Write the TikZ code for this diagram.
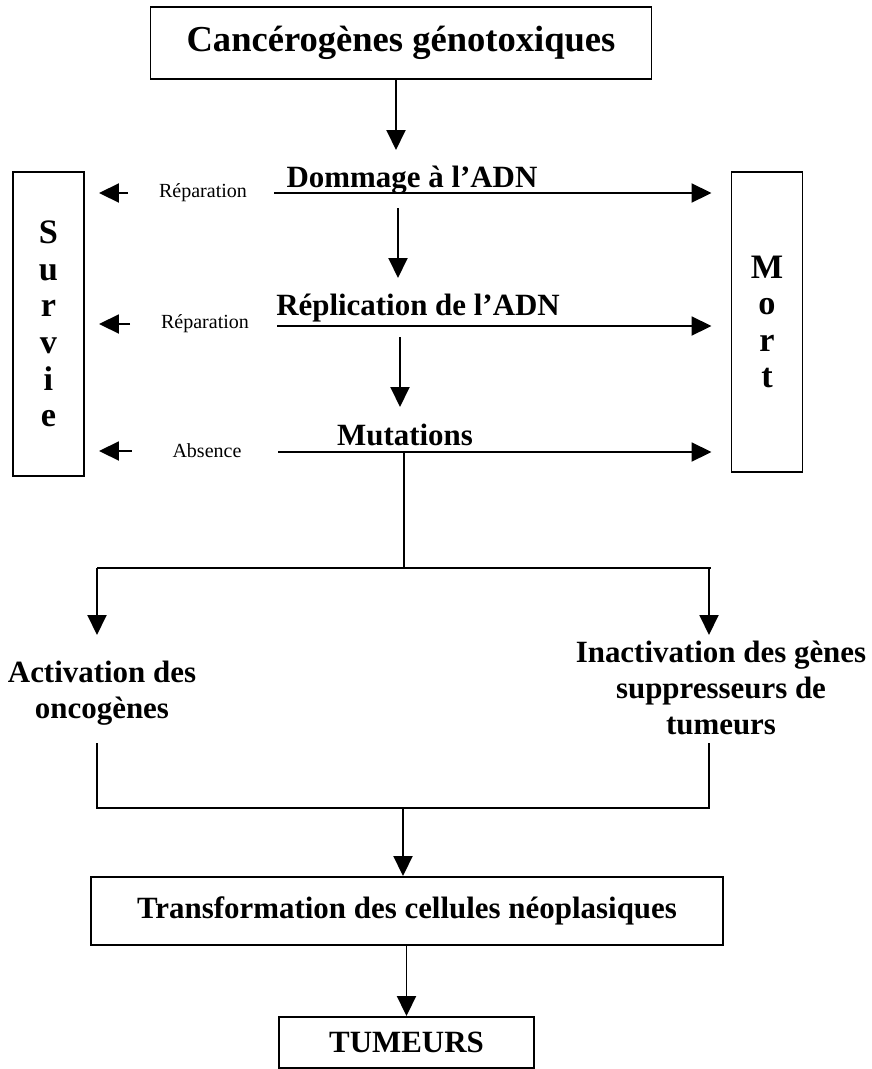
\documentclass[tikz,border=0pt]{standalone}
\usepackage{fontspec}
\setmainfont{Liberation Serif}
\usetikzlibrary{arrows.meta}

\begin{document}
\begin{tikzpicture}[
    x=0.2mm, y=-0.2mm,
    line width=1.1pt,
    arr/.style={-{Triangle[length=4mm,width=3.8mm]}},
    box/.style={draw, inner sep=0pt},
    big/.style={font=\bfseries\fontsize{20.8}{24}\selectfont},
    txt/.style={font=\bfseries\fontsize{17.6}{20.6}\selectfont, align=center, inner sep=0pt},
    small/.style={font=\fontsize{11.4}{13}\selectfont, inner sep=0pt},
    side/.style={draw, font=\bfseries\fontsize{19.5}{20.8}\selectfont, align=center, minimum width=14.2mm}
]
\useasboundingbox (0,0) rectangle (871,1069);

% Source
\node[box, big, minimum width=100.2mm, minimum height=14.4mm] (carc) at (401,43) {Cancérogènes génotoxiques};

% Side boxes
\node[side, minimum height=60.8mm] (survie) at (48.5,324) {S\\u\\r\\v\\i\\e};
\node[side, minimum height=60mm] (mort) at (767,322) {M\\o\\r\\t};

% Levels
\node[txt, anchor=base] (dom) at (412,187) {Dommage à l’ADN};
\node[txt, anchor=base] (repl) at (418,315) {Réplication de l’ADN};
\node[txt, anchor=base] (mut) at (405,445) {Mutations};

\node[small] (rep1) at (203,193) {Réparation};
\node[small] (rep2) at (205,324) {Réparation};
\node[small] (abs) at (207,451) {Absence};

\coordinate (d0) at (274,193);
\coordinate (r0) at (277,326);
\coordinate (m0) at (278,452);

% Branches
\node[txt] (act) at (102,693) {Activation des\\oncogènes};
\node[txt] (inact) at (721,688) {Inactivation des gènes\\suppresseurs de\\tumeurs};

% Result
\node[box, txt, minimum width=126.4mm, minimum height=13.6mm] (transf) at (407,911) {Transformation des cellules néoplasiques};
\node[box, txt, minimum width=51mm, minimum height=10.2mm] (tum) at (406.5,1042.5) {TUMEURS};

% Edges
\coordinate (a1) at (396,150);
\draw[arr] (carc.south -| a1) -- (a1);

\draw[arr, shorten >=3.8mm] (d0) -- (mort.west |- d0);
\draw[arr, shorten >=3.8mm] (r0) -- (mort.west |- r0);
\draw[arr, shorten >=3.8mm] (m0) -- (mort.west |- m0);

\draw[arr, shorten >=2.8mm] ([xshift=-6mm]rep1.west) -- (survie.east |- rep1);
\draw[arr, shorten >=2.8mm] ([xshift=-6mm]rep2.west) -- (survie.east |- rep2);
\draw[arr, shorten >=2.8mm] ([xshift=-8mm]abs.west) -- (survie.east |- abs);

\coordinate (a2) at (398,208);
\coordinate (b2) at (398,278);
\draw[arr] (a2) -- (b2);
\coordinate (a3) at (400,337);
\coordinate (b3) at (400,407);
\draw[arr] (a3) -- (b3);

\coordinate (split) at (404,568);
\coordinate (gl) at (97,568);
\coordinate (gr) at (709,568);
\draw (m0 -| split) -- (split);
\draw (gl) -- ([xshift=0.4mm]gr);
\coordinate (tl) at (97,635);
\coordinate (tr) at (709,635);
\draw[arr] (gl) -- (tl);
\draw[arr] (gr) -- (tr);

\coordinate (ul) at (97,743);
\coordinate (ur) at (709,743);
\coordinate (jm) at (403,808);
\draw (ul) -- (ul |- jm) -- (ur |- jm) -- (ur);
\draw[arr] (jm) -- (jm |- transf.north);
\draw[arr] (transf.south -| tum.north) -- (tum.north);

\end{tikzpicture}
\end{document}
